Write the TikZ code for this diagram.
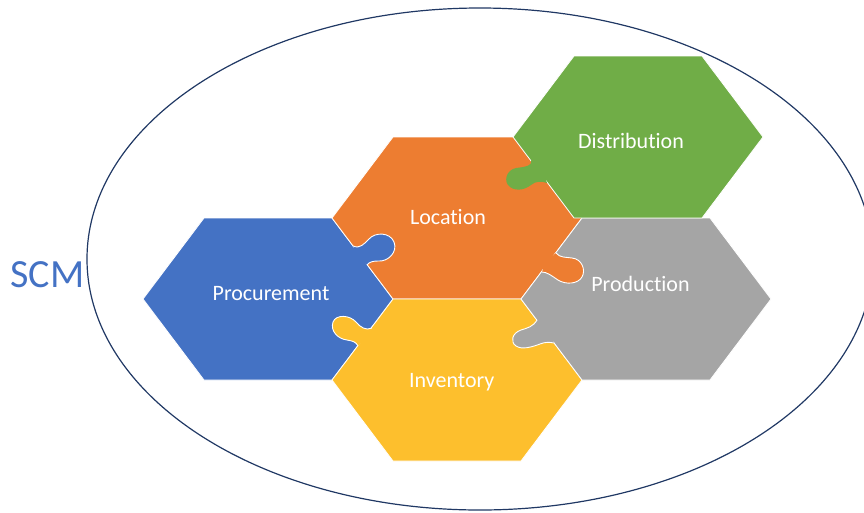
\documentclass[tikz,border=0pt]{standalone}
\usepackage{fontspec}
\setmainfont{Carlito}[Ligatures=NoCommon]
\usepackage{tikz}
\usepackage{xcolor}
\usetikzlibrary{positioning, calc}

\definecolor{procblue}{HTML}{4472C4}
\definecolor{locorange}{HTML}{ED7D31}
\definecolor{distgreen}{HTML}{70AD47}
\definecolor{prodgray}{HTML}{A5A5A5}
\definecolor{invyellow}{HTML}{FDBF2D}
\definecolor{rimnavy}{HTML}{203864}

\begin{document}
\begin{tikzpicture}[x=1pt, y=-1pt,
  piece/.style={draw=white, line width=0.8pt},
  seam/.style={draw=white, line width=0.9pt},
  lbl/.style={text=white, font=\fontsize{22}{26}\selectfont, anchor=base}]
\useasboundingbox (0,0) rectangle (864,512);

% Outer ellipse and title
\draw[rimnavy, line width=1.2pt] (480,259) ellipse [x radius=393pt, y radius=251pt];
\node[text=procblue, font=\fontsize{40}{46}\selectfont, anchor=base] (scm) at (47.5,287) {SCM};

% Hexagon pieces
\foreach \cx/\cy/\col in {268/299/procblue, 457/218/locorange, 457/380/invyellow, 646/299/prodgray, 638/137/distgreen}
  \draw[piece, fill=\col] (\cx-125,\cy) -- ++(61,-81) -- ++(128,0) -- ++(61,81) -- ++(-61,81) -- ++(-128,0) -- cycle;

% Procurement tab into Location
\fill[procblue] (353,246) .. controls (360,249) and (364,244) .. (369,239)
  .. controls (375,232) and (390,232) .. (394,242)
  .. controls (398,252) and (388,262) .. (378,261)
  .. controls (373,261) and (369,262) .. (367,265) -- (356,256) -- cycle;
\draw[seam] (353,246) .. controls (360,249) and (364,244) .. (369,239)
  .. controls (375,232) and (390,232) .. (394,242)
  .. controls (398,252) and (388,262) .. (378,261)
  .. controls (373,261) and (369,262) .. (367,265);

% Inventory tab into Procurement
\fill[invyellow] (372,328) .. controls (366,331) and (360,327) .. (356,322)
  .. controls (350,315) and (336,314) .. (333,322)
  .. controls (330,331) and (338,339) .. (347,340)
  .. controls (353,341) and (356,342) .. (358,346) -- (366,338) -- cycle;
\draw[seam] (372,328) .. controls (366,331) and (360,327) .. (356,322)
  .. controls (350,315) and (336,314) .. (333,322)
  .. controls (330,331) and (338,339) .. (347,340)
  .. controls (353,341) and (356,342) .. (358,346);

% Location tab into Production
\fill[locorange] (556,253) .. controls (560,258) and (566,257) .. (572,258)
  .. controls (582,259) and (586,270) .. (582,277)
  .. controls (578,284) and (566,285) .. (558,280)
  .. controls (552,276) and (547,272) .. (542,272) -- (545,262) -- cycle;
\draw[seam] (556,253) .. controls (560,258) and (566,257) .. (572,258)
  .. controls (582,259) and (586,270) .. (582,277)
  .. controls (578,284) and (566,285) .. (558,280)
  .. controls (552,276) and (547,272) .. (542,272);

% Production tab into Inventory
\fill[prodgray] (537,320) .. controls (533,327) and (527,328) .. (521,330)
  .. controls (512,333) and (510,342) .. (516,346)
  .. controls (522,350) and (532,347) .. (540,344)
  .. controls (545,342) and (549,342) .. (554,343) -- (550,325) -- cycle;
\draw[seam] (537,320) .. controls (533,327) and (527,328) .. (521,330)
  .. controls (512,333) and (510,342) .. (516,346)
  .. controls (522,350) and (532,347) .. (540,344)
  .. controls (545,342) and (549,342) .. (554,343);

% Distribution tab into Location
\fill[distgreen] (531,160) .. controls (533,166) and (524,167) .. (516,168)
  .. controls (506,170) and (503,182) .. (510,187)
  .. controls (517,192) and (526,189) .. (531,185)
  .. controls (536,181) and (541,181) .. (547,183) -- (541,165) -- cycle;

% Labels
\node[lbl] (proc) at (271,300) {Procurement};
\node[lbl] (loc) at (448,224) {Location};
\node[lbl] (dist) at (631,148) {Distribution};
\node[lbl] (prod) at (640.5,291) {Production};
\node[lbl] (inv) at (451.7,387) {Inventory};
\end{tikzpicture}
\end{document}
